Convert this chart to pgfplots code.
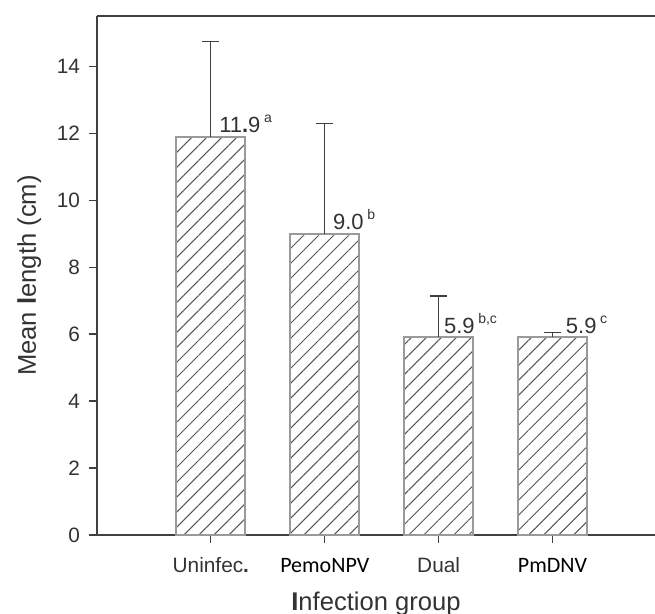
\documentclass[border=0pt]{standalone}
\usepackage{pgfplots}
\pgfplotsset{compat=1.18}
\usepackage{fontspec}
\setmainfont{Liberation Sans}
\newfontfamily\carlito{Carlito}
\usetikzlibrary{patterns.meta}
\definecolor{txt}{HTML}{333333}
\definecolor{axcol}{HTML}{404040}
\definecolor{barb}{HTML}{9A9A9A}
\definecolor{hatch}{HTML}{555555}
\newcommand{\sups}[1]{\,{\fontsize{7}{8}\selectfont\raisebox{5pt}{#1}}}
\begin{document}
\begin{tikzpicture}
\begin{axis}[
  at={(0,0)}, anchor=south west,
  scale only axis, width=279pt, height=259.5pt,
  xmin=-1, xmax=3.9, ymin=0, ymax=15.5,
  clip=false,
  axis x line=bottom, axis y line=left,
  axis line style={-, axcol, line width=0.8pt},
  xtick={0,1,2,3},
  xticklabels={Uninfec\textbf{.}, {\carlito\fontsize{11}{13}\selectfont\color{black}PemoNPV}, Dual, {\carlito\fontsize{11}{13}\selectfont\color{black}PmDNV}},
  ytick={0,2,4,6,8,10,12,14},
  tick align=outside, major tick length=4pt,
  tick style={axcol, line width=0.6pt},
  /pgf/number format/assume math mode=true,
  ticklabel style={txt, font=\fontsize{10.4}{12}\selectfont},
  yticklabel style={xshift=-1pt},
  xticklabel style={yshift=-3pt, text height=8pt, text depth=2pt},
  xlabel={\textbf{I}nfection group},
  ylabel={Mean \textbf{l}ength (cm)},
  label style={txt, font=\fontsize{12.8}{15}\selectfont},
  ylabel style={at={(ticklabel cs:0.5)}, yshift=1pt},
  xlabel style={yshift=-1pt},
]
\addplot[ybar, bar width=34.5pt, draw=barb, line width=1pt,
  preaction={fill=white},
  pattern={Lines[angle=45, distance=5.3pt, line width=0.5pt]}, pattern color=hatch,
  error bars/.cd, y dir=plus, y explicit,
  error bar style={axcol, line width=0.6pt},
  error mark options={rotate=90, axcol, line width=0.6pt, mark size=4.25pt}]
  coordinates {
  (0,11.9) +- (0,2.85)
  (1,9.0) +- (0,3.3)
  (2,5.9) +- (0,1.24)
  (3,5.9) +- (0,0.14)
  };
\draw[axcol, line width=0.8pt] (rel axis cs:0,1) -- (rel axis cs:1,1);
\begin{scope}[every node/.style={anchor=base west, inner sep=0pt, txt, font=\fontsize{11}{13}\selectfont}]
\node[xshift=4pt, yshift=2pt] at (axis cs:0,11.9) {11\textbf{.}9\sups{a}};
\node[xshift=4pt, yshift=2pt] at (axis cs:1,9.0) {9.0\sups{b}};
\node[xshift=2.5pt, yshift=2pt] at (axis cs:2,5.9) {5.9\sups{b,c}};
\node[xshift=6.5pt, yshift=2pt] at (axis cs:3,5.9) {5.9\sups{c}};
\end{scope}
\end{axis}
\pgfresetboundingbox
\path (-48.5pt,-39.5pt) rectangle (279pt,267.5pt);
\end{tikzpicture}
\end{document}
